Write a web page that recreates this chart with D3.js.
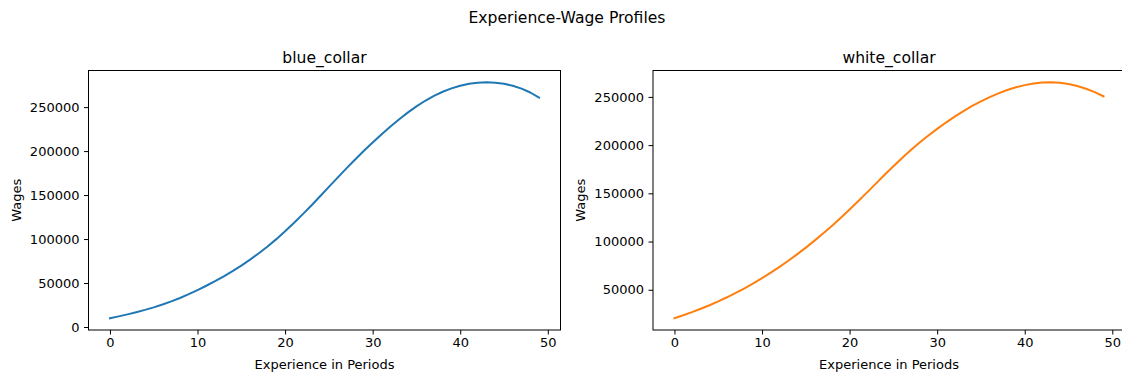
<!DOCTYPE html>
<html>
<head>
<meta charset="utf-8">
<script src="https://cdn.jsdelivr.net/npm/d3@7"></script>
<style>
  html, body { margin: 0; padding: 0; background: #ffffff; }
  svg { display: block; }
  text { font-family: "DejaVu Sans", sans-serif; fill: #000; }
</style>
</head>
<body>
<svg id="chart" width="1122" height="378"></svg>
<script>
// Experience periods (x) and mean wage per period for each occupation
const experience = [
  0, 1, 2, 3, 4, 5, 6, 7, 8, 9,
  10, 11, 12, 13, 14, 15, 16, 17, 18, 19,
  20, 21, 22, 23, 24, 25, 26, 27, 28, 29,
  30, 31, 32, 33, 34, 35, 36, 37, 38, 39,
  40, 41, 42, 43, 44, 45, 46, 47, 48, 49
];

const blueCollarWages = [
  10000, 12100, 14350, 16800, 19450, 22350, 25550, 29100, 33000, 37300,
  42000, 46900, 52100, 57650, 63550, 69850, 76600, 83850, 91600, 99900,
  108750, 118150, 128000, 138200, 148650, 159250, 169850, 180300, 190450, 200300,
  209800, 218950, 227700, 236000, 243750, 250850, 257200, 262750, 267450, 271300,
  274300, 276450, 277750, 278200, 277800, 276500, 274250, 271000, 266600, 260800
];

const whiteCollarWages = [
  20500, 23500, 26750, 30250, 33950, 37950, 42200, 46700, 51500, 56600,
  62000, 67700, 73700, 80050, 86750, 93700, 100950, 108550, 116450, 124650,
  133200, 142000, 151000, 160100, 169200, 178100, 186700, 194900, 202650, 209950,
  216850, 223400, 229550, 235300, 240600, 245400, 249800, 253700, 257100, 259950,
  262200, 263850, 264850, 265150, 264600, 263300, 261250, 258450, 254900, 250600
];

const xTickValues = [0, 10, 20, 30, 40, 50];
const blueTickValues = [0, 50000, 100000, 150000, 200000, 250000];
const whiteTickValues = [50000, 100000, 150000, 200000, 250000];

const panelTitles = ["blue_collar", "white_collar"];
const seriesColors = ["#1f77b4", "#ff7f0e"];

const panels = [
  { title: panelTitles[0], values: blueCollarWages, ticks: blueTickValues, color: seriesColors[0], left: 88.5 },
  { title: panelTitles[1], values: whiteCollarWages, ticks: whiteTickValues, color: seriesColors[1], left: 653 }
];

const plotTop = 70.5;
const plotWidth = 472;
const plotHeight = 259.5;
const tickFont = 13;

const svg = d3.select("#chart");

// Figure title
svg.append("text")
  .attr("x", 567)
  .attr("y", 23)
  .attr("text-anchor", "middle")
  .style("font-size", "15.6px")
  .text("Experience-Wage Profiles");

// matplotlib-style 5% margins around the data range
function padded(extent) {
  const span = extent[1] - extent[0];
  return [extent[0] - 0.05 * span, extent[1] + 0.05 * span];
}

panels.forEach(p => {
  const g = svg.append("g").attr("transform", `translate(${p.left},${plotTop})`);

  const x = d3.scaleLinear()
    .domain(padded(d3.extent(experience)))
    .range([0, plotWidth]);

  const y = d3.scaleLinear()
    .domain(padded(d3.extent(p.values)))
    .range([plotHeight, 0]);

  // bottom axis
  const xAxis = g.append("g")
    .attr("transform", `translate(0,${plotHeight})`)
    .call(d3.axisBottom(x).tickValues(xTickValues).tickFormat(d3.format("d"))
      .tickSize(4.5).tickPadding(3.5).tickSizeOuter(0));
  xAxis.select(".domain").remove();
  xAxis.selectAll("line").attr("stroke", "#000").attr("stroke-width", 1);
  xAxis.selectAll("text").style("font-size", tickFont + "px").style("font-family", "DejaVu Sans");

  // left axis
  const yAxis = g.append("g")
    .call(d3.axisLeft(y).tickValues(p.ticks).tickFormat(d3.format("d"))
      .tickSize(4.5).tickPadding(4.5).tickSizeOuter(0));
  yAxis.select(".domain").remove();
  yAxis.selectAll("line").attr("stroke", "#000").attr("stroke-width", 1);
  yAxis.selectAll("text").style("font-size", tickFont + "px").style("font-family", "DejaVu Sans");

  // wage profile line
  const line = d3.line()
    .x((d, i) => x(experience[i]))
    .y(d => y(d));

  g.append("path")
    .datum(p.values)
    .attr("fill", "none")
    .attr("stroke", p.color)
    .attr("stroke-width", 2)
    .attr("stroke-linejoin", "round")
    .attr("stroke-linecap", "square")
    .attr("d", line);

  // axes frame
  g.append("rect")
    .attr("x", 0)
    .attr("y", 0)
    .attr("width", plotWidth)
    .attr("height", plotHeight)
    .attr("fill", "none")
    .attr("stroke", "#000")
    .attr("stroke-width", 1);

  // panel title
  g.append("text")
    .attr("x", plotWidth / 2)
    .attr("y", -7.8)
    .attr("text-anchor", "middle")
    .style("font-size", "15.6px")
    .text(p.title);

  // axis labels
  g.append("text")
    .attr("x", plotWidth / 2)
    .attr("y", plotHeight + 39)
    .attr("text-anchor", "middle")
    .style("font-size", tickFont + "px")
    .text("Experience in Periods");

  g.append("text")
    .attr("transform", `translate(-68,${plotHeight / 2}) rotate(-90)`)
    .attr("text-anchor", "middle")
    .style("font-size", tickFont + "px")
    .text("Wages");
});
</script>
</body>
</html>
